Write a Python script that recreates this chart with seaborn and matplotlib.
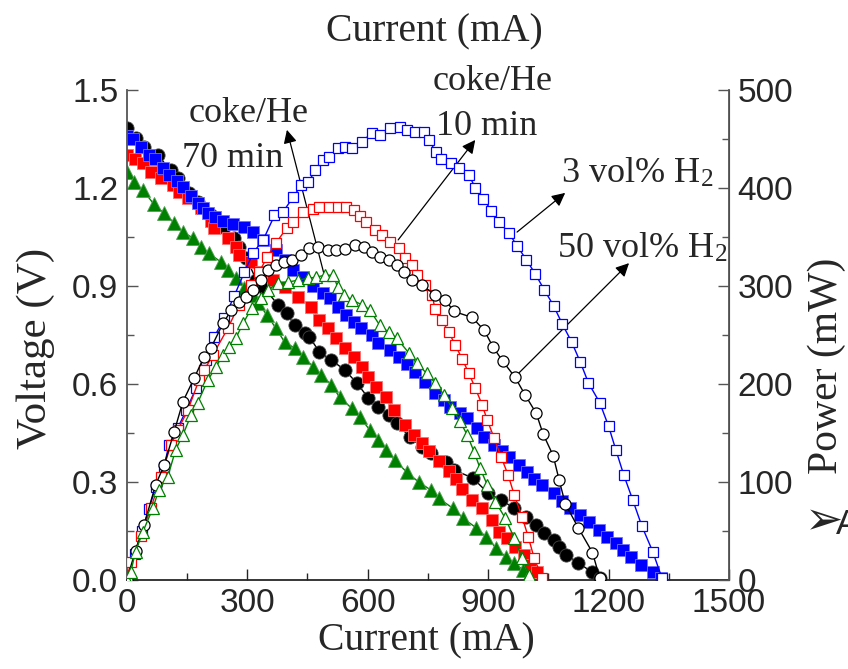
import matplotlib
matplotlib.use("Agg")
import matplotlib.pyplot as plt
from matplotlib.ticker import MultipleLocator
import seaborn as sns

sns.set_style("ticks")
plt.rcParams["font.family"] = ["Liberation Sans", "DejaVu Sans"]
plt.rcParams["mathtext.fontset"] = "stix"

# ---- polarisation data: current (mA) and cell voltage (V) ----
i_3h2 = [0, 15, 35, 55, 70, 90, 105, 125, 140, 160, 177, 190, 202, 220, 240, 265, 293, 315, 340, 372,
         395, 415, 440, 465, 490, 506, 527, 547, 565, 583, 610, 627, 655, 677, 697, 718, 743, 768, 790, 805,
         830, 848, 873, 890, 915, 935, 952, 977, 997, 1015, 1035, 1065, 1085, 1105, 1130, 1152, 1177, 1197,
         1218, 1235, 1255, 1280, 1310, 1330]
v_3h2 = [1.36, 1.35, 1.325, 1.30, 1.29, 1.26, 1.24, 1.22, 1.203, 1.175, 1.154, 1.14, 1.123, 1.11, 1.10,
         1.09, 1.08, 1.065, 1.04, 1.01, 0.98, 0.95, 0.928, 0.90, 0.88, 0.863, 0.836, 0.81, 0.79, 0.77,
         0.75, 0.726, 0.704, 0.683, 0.66, 0.637, 0.606, 0.572, 0.55, 0.53, 0.51, 0.495, 0.465, 0.438,
         0.413, 0.395, 0.377, 0.352, 0.33, 0.31, 0.29, 0.266, 0.243, 0.22, 0.199, 0.178, 0.153, 0.132,
         0.113, 0.092, 0.07, 0.046, 0.025, 0.005]

i_50h2 = [0, 22, 43, 77, 110, 127, 155, 177, 210, 243, 268, 280, 298, 323, 343, 377, 398, 418, 443, 455,
          480, 510, 543, 573, 602, 627, 652, 672, 705, 735, 758, 795, 815, 862, 900, 932, 965, 995, 1020,
          1040, 1063, 1077, 1095, 1125, 1158, 1178]
v_50h2 = [1.385, 1.353, 1.326, 1.30, 1.255, 1.23, 1.184, 1.158, 1.117, 1.08, 1.046, 1.02, 0.985, 0.918,
          0.893, 0.842, 0.817, 0.78, 0.756, 0.744, 0.698, 0.673, 0.643, 0.603, 0.557, 0.53, 0.505, 0.48,
          0.438, 0.407, 0.389, 0.36, 0.337, 0.312, 0.266, 0.245, 0.22, 0.193, 0.168, 0.144, 0.123, 0.101,
          0.077, 0.052, 0.025, 0.005]

i_coke10 = [0, 20, 40, 60, 85, 115, 130, 152, 185, 210, 218, 252, 272, 280, 310, 335, 365, 393, 427, 460,
            480, 502, 522, 543, 565, 585, 602, 622, 647, 665, 693, 715, 735, 752, 777, 802, 820, 835, 860,
            885, 910, 927, 947, 967, 990, 1005, 1022]
v_coke10 = [1.30, 1.29, 1.276, 1.25, 1.23, 1.21, 1.188, 1.17, 1.14, 1.10, 1.077, 1.047, 1.02, 0.995, 0.973,
            0.943, 0.918, 0.897, 0.866, 0.835, 0.796, 0.771, 0.741, 0.71, 0.683, 0.652, 0.621, 0.591, 0.56,
            0.52, 0.474, 0.444, 0.42, 0.395, 0.365, 0.335, 0.31, 0.28, 0.245, 0.22, 0.184, 0.147, 0.128,
            0.101, 0.077, 0.046, 0.025]

i_coke70 = [0, 18, 40, 68, 93, 118, 140, 165, 185, 205, 235, 252, 272, 293, 315, 327, 350, 372, 393, 418,
            440, 465, 485, 510, 530, 560, 580, 605, 627, 647, 667, 697, 727, 758, 777, 812, 837, 870, 895,
            920, 945, 965, 987, 1000]
v_coke70 = [1.25, 1.218, 1.194, 1.150, 1.123, 1.093, 1.065, 1.047, 1.02, 1.0, 0.973, 0.949, 0.924, 0.894,
            0.872, 0.848, 0.81, 0.77, 0.729, 0.71, 0.683, 0.652, 0.628, 0.597, 0.56, 0.526, 0.499, 0.46,
            0.43, 0.398, 0.367, 0.331, 0.30, 0.275, 0.25, 0.22, 0.19, 0.16, 0.132, 0.098, 0.07, 0.052,
            0.031, 0.01]

# ---- power data: current (mA) and power (mW) ----
ip_3h2 = [0, 20, 38, 55, 72, 93, 105, 127, 148, 173, 198, 218, 243, 268, 293, 315, 340, 368, 390, 415,
          435, 452, 470, 490, 505, 527, 543, 560, 585, 610, 630, 655, 680, 697, 718, 740, 752, 770, 783,
          808, 828, 853, 868, 888, 908, 928, 952, 972, 995, 1018, 1040, 1063, 1085, 1108, 1130, 1150,
          1178, 1200, 1218, 1238, 1260, 1283, 1310, 1333]
p_3h2 = [0, 27, 50, 72, 95, 115, 138, 155, 173, 196, 224, 248, 267, 290, 314, 334, 347, 372, 376, 391,
         403, 406, 418, 429, 432, 441, 442, 441, 447, 456, 454, 461, 462, 459, 457, 457, 449, 437, 430,
         425, 420, 413, 400, 389, 377, 365, 354, 341, 327, 312, 296, 280, 261, 243, 222, 201, 181, 157,
         133, 107, 82, 55, 29, 2]

ip_50h2 = [0, 22, 43, 72, 93, 118, 140, 168, 193, 210, 240, 260, 280, 298, 315, 335, 352, 372, 392, 412,
           435, 455, 477, 502, 522, 543, 568, 590, 610, 630, 652, 672, 690, 710, 735, 768, 793, 815, 860,
           890, 912, 937, 967, 992, 1020, 1037, 1062, 1077, 1092, 1125, 1160, 1178]
p_50h2 = [0, 30, 56, 97, 117, 151, 182, 206, 228, 237, 262, 275, 284, 289, 296, 306, 316, 321, 324, 327,
          332, 339, 340, 337, 337, 338, 342, 340, 335, 330, 327, 321, 314, 306, 301, 291, 286, 274, 268,
          255, 238, 223, 207, 189, 170, 149, 127, 102, 78, 53, 28, 2]

ip_coke10 = [0, 10, 35, 60, 85, 110, 127, 152, 180, 193, 215, 252, 280, 310, 330, 350, 372, 398, 415, 440,
             465, 480, 505, 527, 547, 565, 580, 597, 618, 635, 655, 677, 693, 710, 723, 743, 760, 768, 785,
             802, 818, 835, 852, 868, 885, 898, 915, 932, 950, 965, 985, 1000, 1015, 1035]
p_coke10 = [0, 18, 45, 73, 105, 138, 153, 173, 204, 214, 230, 257, 281, 301, 314, 330, 344, 359, 365, 376,
            379, 381, 381, 381, 381, 378, 371, 365, 357, 352, 345, 339, 329, 321, 311, 301, 291, 277, 265,
            253, 240, 226, 211, 196, 179, 163, 145, 126, 107, 87, 64, 44, 22, 2]

ip_coke70 = [0, 10, 22, 40, 65, 80, 102, 122, 140, 160, 177, 202, 222, 240, 255, 272, 290, 312, 335, 352,
             377, 402, 427, 452, 472, 493, 515, 525, 540, 560, 585, 605, 630, 652, 672, 702, 722, 747, 768,
             790, 810, 830, 848, 865, 880, 898, 918, 943, 965, 985, 1002]
p_coke70 = [0, 8, 29, 49, 73, 92, 105, 133, 148, 168, 181, 204, 217, 230, 238, 247, 262, 278, 288, 296,
            303, 304, 306, 308, 309, 311, 311, 299, 291, 286, 281, 276, 260, 253, 247, 232, 221, 211, 201,
            189, 176, 162, 148, 131, 114, 97, 80, 63, 43, 22, 5]

x_ticks = [0, 300, 600, 900, 1200, 1500]
v_ticks = [0.0, 0.3, 0.6, 0.9, 1.2, 1.5]
p_ticks = [0, 100, 200, 300, 400, 500]

BLUE, RED, BLACK, GREEN = "#0000ff", "#ff0000", "#000000", "#008000"

fig = plt.figure(figsize=(8.48, 6.69), dpi=100)
ax = fig.add_axes([0.1494, 0.1330, 0.7103, 0.7325])
ax2 = ax.twinx()

common = dict(estimator=None, sort=False, legend=False, linewidth=1.0)

# voltage curves (filled symbols)
sns.lineplot(x=i_50h2, y=v_50h2, ax=ax, color=BLACK, marker="o", markersize=9.5,
             markerfacecolor=BLACK, markeredgecolor="#444444", markeredgewidth=0.6, **common)
sns.lineplot(x=i_coke10, y=v_coke10, ax=ax, color=RED, marker="s", markersize=9,
             markerfacecolor=RED, markeredgecolor="#ff7070", markeredgewidth=0.6, **common)
sns.lineplot(x=i_3h2, y=v_3h2, ax=ax, color=BLUE, marker="s", markersize=9,
             markerfacecolor=BLUE, markeredgecolor="#7070ff", markeredgewidth=0.6, **common)
sns.lineplot(x=i_coke70, y=v_coke70, ax=ax, color=GREEN, marker="^", markersize=10.5,
             markerfacecolor=GREEN, markeredgecolor="#50a050", markeredgewidth=0.6, **common)

# power curves (open symbols)
sns.lineplot(x=ip_3h2, y=p_3h2, ax=ax2, color=BLUE, marker="s", markersize=7.5,
             markerfacecolor="white", markeredgecolor=BLUE, markeredgewidth=0.9, **common)
sns.lineplot(x=ip_coke10, y=p_coke10, ax=ax2, color=RED, marker="s", markersize=7.5,
             markerfacecolor="white", markeredgecolor=RED, markeredgewidth=0.9, **common)
sns.lineplot(x=ip_50h2, y=p_50h2, ax=ax2, color=BLACK, marker="o", markersize=8,
             markerfacecolor="white", markeredgecolor=BLACK, markeredgewidth=0.9, **common)
sns.lineplot(x=ip_coke70, y=p_coke70, ax=ax2, color=GREEN, marker="^", markersize=9,
             markerfacecolor="white", markeredgecolor=GREEN, markeredgewidth=0.9, **common)

# axes ranges and ticks
ax.set_xlim(0, 1500)
ax.set_ylim(0, 1.5)
ax2.set_ylim(0, 500)
ax.set_xticks(x_ticks)
ax.set_yticks(v_ticks)
ax2.set_yticks(p_ticks)
ax.set_yticklabels([f"{v:.1f}" for v in v_ticks])
ax.xaxis.set_minor_locator(MultipleLocator(150))
ax.yaxis.set_minor_locator(MultipleLocator(0.15))
ax2.yaxis.set_minor_locator(MultipleLocator(50))

tick_font = dict(labelsize=24)
ax.tick_params(axis="both", which="major", direction="in", length=8, width=1.0, pad=6, **tick_font)
ax.tick_params(axis="both", which="minor", direction="in", length=5, width=1.0)
ax.tick_params(axis="y", which="both", color="#555555")
ax2.tick_params(axis="y", which="major", direction="in", length=8, width=1.0, pad=6,
                color="#555555", **tick_font)
ax2.tick_params(axis="y", which="minor", direction="in", length=5, width=1.0, color="#555555")

for a in (ax, ax2):
    a.spines["top"].set_visible(False)
ax2.spines["left"].set_visible(False)
ax2.spines["bottom"].set_visible(False)
ax.spines["left"].set_color("#555555")
ax2.spines["right"].set_color("#555555")
for s in ("left", "bottom"):
    ax.spines[s].set_linewidth(1.3)
ax2.spines["right"].set_linewidth(1.3)
ax.set_xlabel("")
ax.set_ylabel("")
ax2.set_ylabel("")

serif = ["Liberation Serif", "DejaVu Serif"]

# axis titles
fig.text(426 / 848, 1 - 641 / 669, "Current (mA)", ha="center", va="center",
         family=serif, fontsize=28.5)
fig.text(434 / 848, 1 - 32 / 669, "Current (mA)", ha="center", va="center",
         family=serif, fontsize=28.5)
fig.text(36 / 848, 1 - 348 / 669, "Voltage (V)", ha="center", va="center", rotation=90,
         family=serif, fontsize=31)
fig.text(827 / 848, 1 - 366 / 669, "Power (mW)", ha="center", va="center", rotation=90,
         family=serif, fontsize=30)

# series annotations
note = dict(family=serif, fontsize=26, ha="left", va="baseline", clip_on=False)
ax.text(153, 1.402, "coke/He", **note)
ax.text(138, 1.264, "70 min", **note)
ax.text(761, 1.500, "coke/He", **note)
ax.text(771, 1.362, "10 min", **note)
ax.text(1082, 1.218, r"3 vol% H$_\mathregular{2}$", **note)
ax.text(1072, 0.989, r"50 vol% H$_\mathregular{2}$", **note)

arrow = dict(arrowstyle="-|>", color="black", lw=0.9, mutation_scale=20,
             shrinkA=0, shrinkB=0)
for tail, head in [((494, 0.924), (399, 1.378)),
                   ((676, 1.041), (868, 1.347)),
                   ((972, 1.065), (1092, 1.185)),
                   ((972, 0.628), (1251, 0.970))]:
    ax.annotate("", xy=head, xytext=tail, arrowprops=arrow, annotation_clip=False)

# marker glyph and letter at the right margin
fig.text(805 / 848, 1 - 522 / 669, "\u27a2", ha="left", va="center", fontsize=33,
         family=["DejaVu Sans"])
fig.text(836 / 848, 1 - 524 / 669, "A", ha="left", va="center", fontsize=25,
         family=["Liberation Sans"])

fig.savefig("out.png", dpi=100)
